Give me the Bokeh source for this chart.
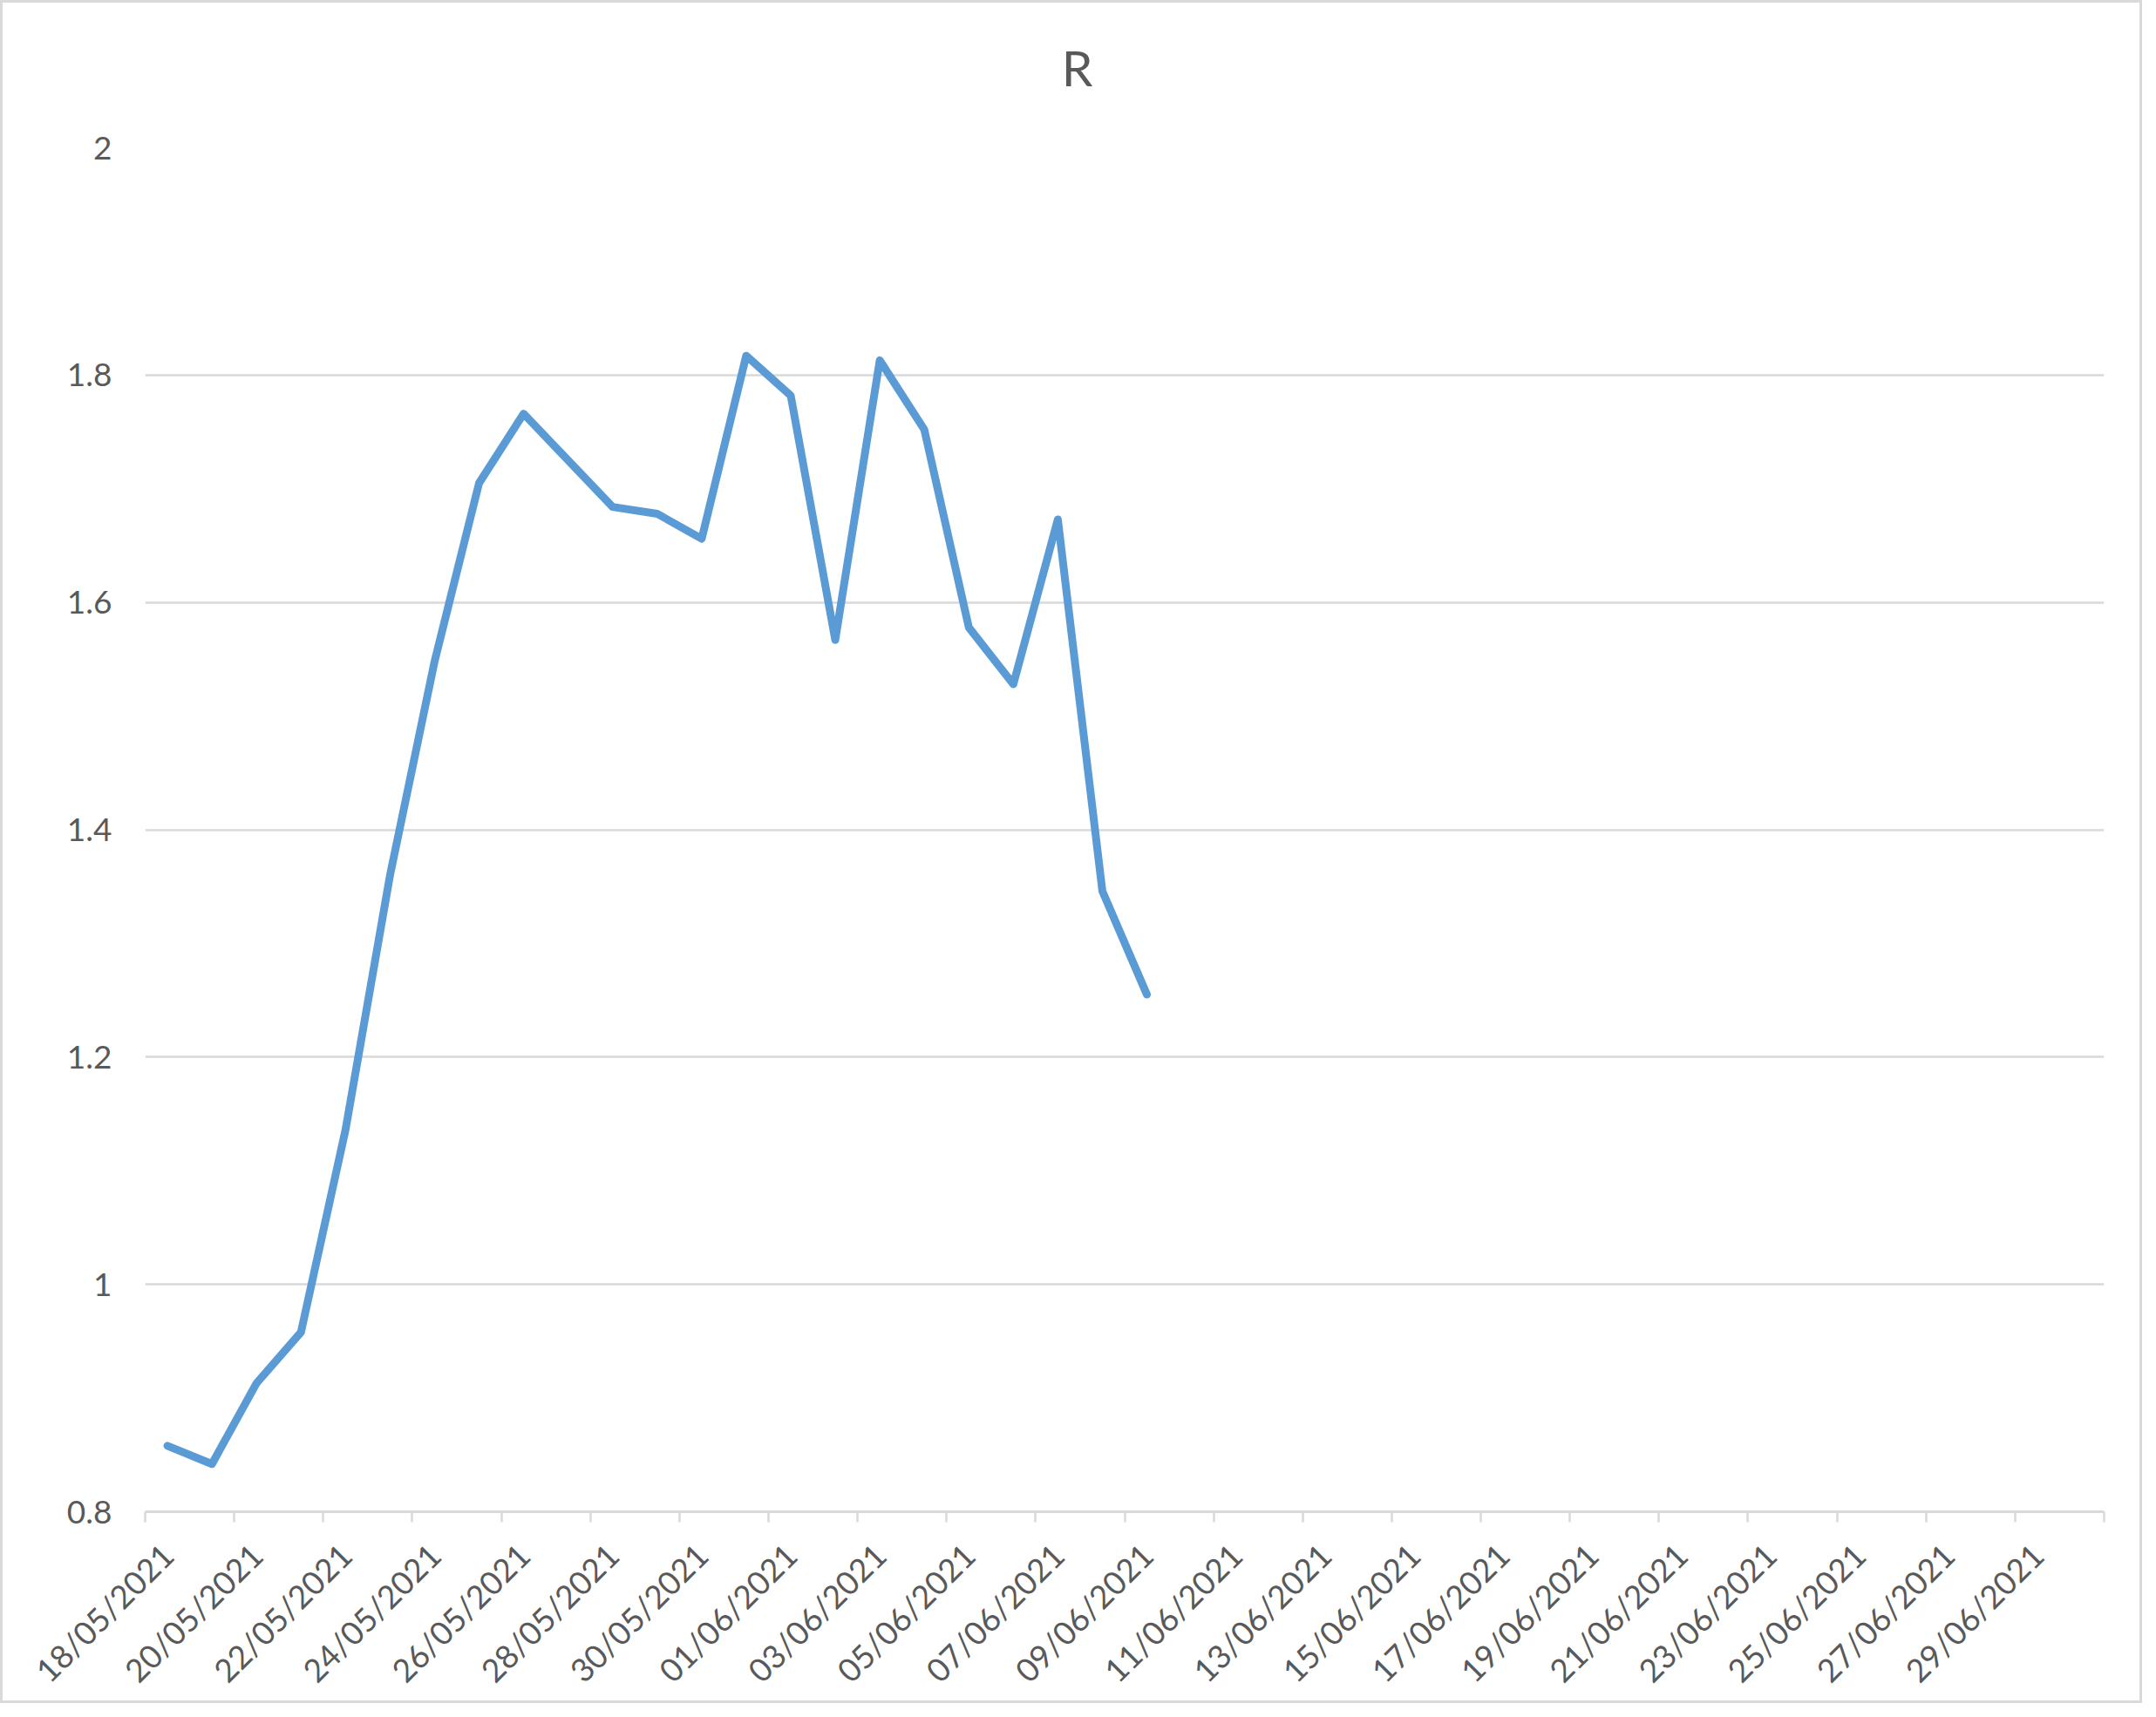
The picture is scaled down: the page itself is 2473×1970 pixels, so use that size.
import math
from bokeh.plotting import figure
from bokeh.models import (FixedTicker, LinearAxis, Range1d, NumeralTickFormatter,
                          ColumnDataSource, Label)
from bokeh.embed import file_html
from bokeh.resources import INLINE

# ---- data -------------------------------------------------------------
axis_dates = [
    "18/05/2021", "19/05/2021", "20/05/2021", "21/05/2021", "22/05/2021",
    "23/05/2021", "24/05/2021", "25/05/2021", "26/05/2021", "27/05/2021",
    "28/05/2021", "29/05/2021", "30/05/2021", "31/05/2021", "01/06/2021",
    "02/06/2021", "03/06/2021", "04/06/2021", "05/06/2021", "06/06/2021",
    "07/06/2021", "08/06/2021", "09/06/2021", "10/06/2021", "11/06/2021",
    "12/06/2021", "13/06/2021", "14/06/2021", "15/06/2021", "16/06/2021",
    "17/06/2021", "18/06/2021", "19/06/2021", "20/06/2021", "21/06/2021",
    "22/06/2021", "23/06/2021", "24/06/2021", "25/06/2021", "26/06/2021",
    "27/06/2021", "28/06/2021", "29/06/2021", "30/06/2021",
]

data_dates = [
    "18/05/2021", "19/05/2021", "20/05/2021", "21/05/2021", "22/05/2021",
    "23/05/2021", "24/05/2021", "25/05/2021", "26/05/2021", "27/05/2021",
    "28/05/2021", "29/05/2021", "30/05/2021", "31/05/2021", "01/06/2021",
    "02/06/2021", "03/06/2021", "04/06/2021", "05/06/2021", "06/06/2021",
    "07/06/2021", "08/06/2021", "09/06/2021",
]

r_values = [
    0.858, 0.842, 0.913, 0.958, 1.136, 1.360, 1.548, 1.705, 1.766, 1.725,
    1.684, 1.678, 1.656, 1.817, 1.782, 1.567, 1.813, 1.752, 1.578, 1.528,
    1.673, 1.346, 1.255,
]

label_dates = axis_dates[::2]
y_ticks = [0.8, 1.0, 1.2, 1.4, 1.6, 1.8, 2.0]
title_text = "R"

# ---- styling ----------------------------------------------------------
FONT = "Lato"
TEXT = "#595959"
GRID = "#D9D9D9"
LINE = "#5B9BD5"

W, H = 2457, 1954
ML, MR, MT, MB = 163, 47, 166, 223

n = len(axis_dates)
x_pos = [axis_dates.index(d) + 0.5 for d in data_dates]
src = ColumnDataSource(dict(x=x_pos, r=r_values, date=data_dates))

p = figure(width=W, height=H, x_range=Range1d(0, n),
           y_range=Range1d(y_ticks[0], y_ticks[-1]),
           x_axis_type=None, output_backend="svg", toolbar_location=None)
p.min_border_left = ML
p.min_border_right = MR
p.min_border_top = MT
p.min_border_bottom = MB
p.outline_line_color = None
p.background_fill_color = "white"
p.border_fill_color = "white"
p.styles = {"border": "3px solid #D9D9D9"}

# chart title, placed in the panel above the plot frame
p.add_layout(Label(x=1069, y=93, x_units="screen", y_units="screen",
                   text=title_text, text_align="center",
                   text_baseline="middle", text_font=FONT,
                   text_font_size="57px", text_color=TEXT), "above")

# y axis
yax = p.yaxis[0]
yax.ticker = FixedTicker(ticks=y_ticks)
yax.formatter = NumeralTickFormatter(format="0.[0]")
yax.axis_line_color = None
yax.major_tick_line_color = None
yax.minor_tick_line_color = None
yax.major_tick_out = 0
yax.major_label_standoff = 38
yax.major_label_text_font = FONT
yax.major_label_text_font_size = "37px"
yax.major_label_text_color = TEXT

p.ygrid.ticker = FixedTicker(ticks=y_ticks)
p.ygrid.grid_line_color = GRID
p.ygrid.grid_line_width = 2.5

# x axis: labels at category centres, tick marks at every second boundary
label_pos = [axis_dates.index(d) + 0.5 for d in label_dates]
bounds = list(range(0, n + 1, 2))
xax = LinearAxis(ticker=FixedTicker(ticks=label_pos, minor_ticks=bounds))
xax.major_label_overrides = {pos: d for pos, d in zip(label_pos, label_dates)}
xax.axis_line_color = GRID
xax.axis_line_width = 3
xax.major_tick_line_color = None
xax.major_tick_out = 0
xax.major_tick_in = 0
xax.minor_tick_line_color = GRID
xax.minor_tick_line_width = 2.5
xax.minor_tick_out = 12
xax.minor_tick_in = 0
xax.major_label_orientation = math.pi / 4
xax.major_label_standoff = 31
xax.major_label_text_font = FONT
xax.major_label_text_font_size = "37px"
xax.major_label_text_color = TEXT
p.add_layout(xax, "below")

p.line("x", "r", source=src, line_color=LINE, line_width=9,
       line_join="round", line_cap="round")

open("out.html", "w").write(file_html(p, INLINE))
